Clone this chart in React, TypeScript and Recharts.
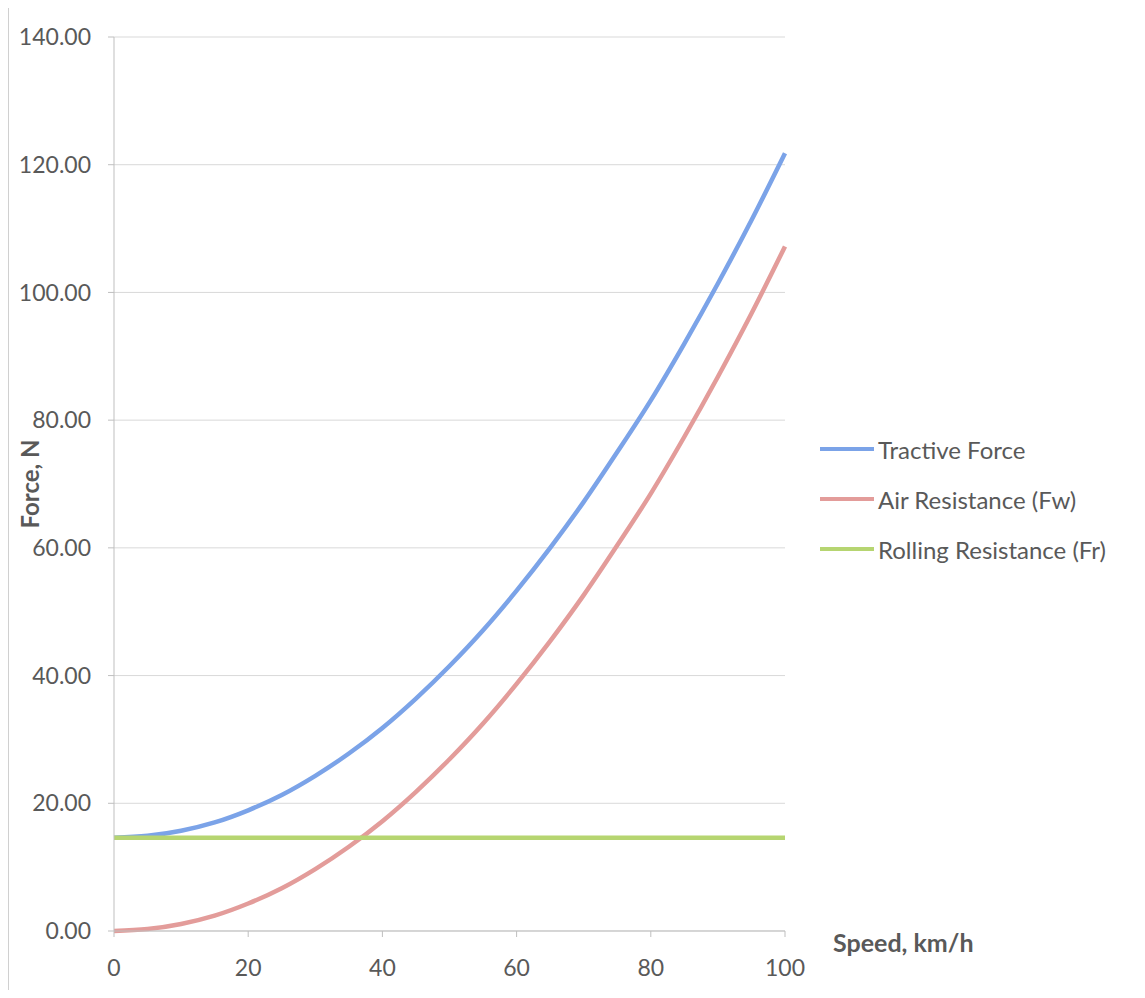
import React from 'react';
import {
  LineChart, Line, XAxis, YAxis, CartesianGrid,
} from 'recharts';

// values (speed step 5 km/h)
const SPEEDS = [0, 5, 10, 15, 20, 25, 30, 35, 40, 45, 50, 55, 60, 65, 70, 75, 80, 85, 90, 95, 100];
const TRACTIVE = [14.6, 14.9, 15.7, 17.0, 18.9, 21.3, 24.3, 27.8, 31.8, 36.4, 41.5, 47.1, 53.3, 60.0, 67.2, 75.0, 83.1, 92.0, 101.4, 111.3, 121.8];
const AIR = [0, 0.3, 1.1, 2.4, 4.3, 6.7, 9.7, 13.2, 17.2, 21.8, 26.9, 32.5, 38.7, 45.4, 52.6, 60.4, 68.5, 77.4, 86.8, 96.7, 107.2];
const ROLLING = [14.6, 14.6, 14.6, 14.6, 14.6, 14.6, 14.6, 14.6, 14.6, 14.6, 14.6, 14.6, 14.6, 14.6, 14.6, 14.6, 14.6, 14.6, 14.6, 14.6, 14.6];

const SERIES_KEYS = ['tractive', 'air', 'rolling'];
const SERIES_NAMES = ['Tractive Force', 'Air Resistance (Fw)', 'Rolling Resistance (Fr)'];

const X_TICKS = [0, 20, 40, 60, 80, 100];
const Y_TICKS = [0, 20, 40, 60, 80, 100, 120, 140];

const data = SPEEDS.map((s, i) => ({
  speed: s,
  tractive: TRACTIVE[i],
  air: AIR[i],
  rolling: ROLLING[i],
}));

const COLORS = ['#7ba3e8', '#e39c9a', '#b6d571'];
const FONT = 'Lato, "Open Sans", sans-serif';
const TEXT = '#595959';
const AXIS = '#bfbfbf';

export default function App() {
  return (
    <div style={{ position: 'relative', width: 1129, height: 982 }}>
      <div style={{
        position: 'absolute', left: 0, top: -5, width: 1134, height: 988,
        border: '1px solid #d0d0d0', boxSizing: 'border-box',
      }} />
      <LineChart
        width={1129}
        height={982}
        data={data}
        margin={{ top: 29, right: 352, left: 10, bottom: 19 }}
        style={{ fontFamily: FONT }}
      >
        <CartesianGrid vertical={false} stroke="#d9d9d9" />
        <XAxis
          dataKey="speed"
          type="number"
          domain={[0, 100]}
          ticks={X_TICKS}
          height={40}
          stroke={AXIS}
          tickSize={6}
          tickMargin={23}
          tick={{ fill: TEXT, fontSize: 23 }}
          label={{ value: 'Speed, km/h', position: 'right', offset: 48, dy: -8, fill: TEXT, fontSize: 25, fontWeight: 'bold' }}
        />
        <YAxis
          type="number"
          domain={[0, 140]}
          ticks={Y_TICKS}
          width={96}
          stroke={AXIS}
          tickSize={6}
          tickMargin={17}
          tick={{ fill: TEXT, fontSize: 23 }}
          tickFormatter={(v: number) => v.toFixed(2)}
          label={{ value: 'Force, N', angle: -90, position: 'center', dx: -36, fill: TEXT, fontSize: 24, fontWeight: 'bold' }}
        />
        {SERIES_KEYS.map((k, i) => (
          <Line
            key={k}
            type="monotone"
            dataKey={k}
            name={SERIES_NAMES[i]}
            stroke={COLORS[i]}
            strokeWidth={4.5}
            dot={false}
            isAnimationActive={false}
          />
        ))}
      </LineChart>
      <div style={{
        position: 'absolute', left: 812, top: 416,
        fontFamily: FONT, fontSize: 24, color: TEXT,
      }}>
        {SERIES_NAMES.map((n, i) => (
          <div key={n} style={{ display: 'flex', alignItems: 'center', height: 50 }}>
            <span style={{ display: 'inline-block', width: 54, height: 4, background: COLORS[i], marginRight: 4 }} />
            <span>{n}</span>
          </div>
        ))}
      </div>
    </div>
  );
}
